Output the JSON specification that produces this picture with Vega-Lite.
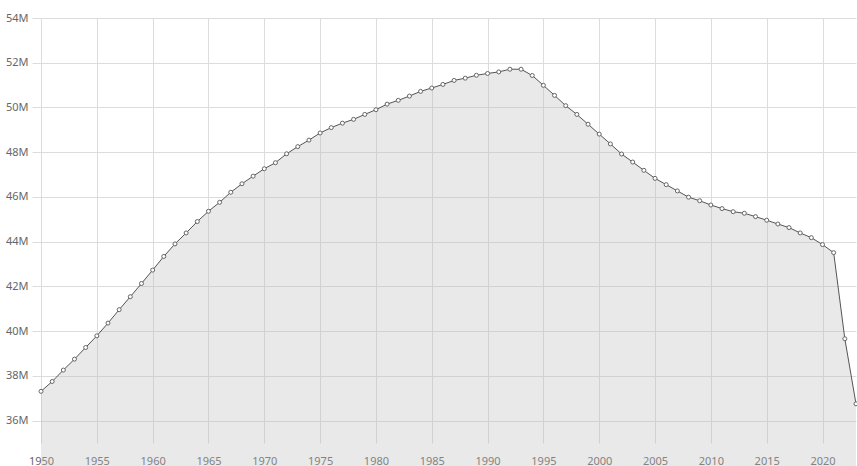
{
  "$schema": "https://vega.github.io/schema/vega-lite/v6.json",
  "width": 815,
  "height": 425,
  "autosize": {"type": "none"},
  "padding": {"left": 41, "top": 18, "right": 1, "bottom": 23},
  "background": "white",
  "config": {
    "view": {"stroke": null},
    "axis": {"labelFont": "Noto Sans", "labelFontSize": 11, "labelColor": "#666666", "domain": false, "gridColor": "#dcdcdc", "gridWidth": 1}
  },
  "data": {"values": [
    {"year": 1950, "pop": 37310000}, {"year": 1951, "pop": 37750000}, {"year": 1952, "pop": 38260000},
    {"year": 1953, "pop": 38750000}, {"year": 1954, "pop": 39270000}, {"year": 1955, "pop": 39790000},
    {"year": 1956, "pop": 40360000}, {"year": 1957, "pop": 40960000}, {"year": 1958, "pop": 41540000},
    {"year": 1959, "pop": 42130000}, {"year": 1960, "pop": 42730000}, {"year": 1961, "pop": 43340000},
    {"year": 1962, "pop": 43900000}, {"year": 1963, "pop": 44390000}, {"year": 1964, "pop": 44900000},
    {"year": 1965, "pop": 45360000}, {"year": 1966, "pop": 45760000}, {"year": 1967, "pop": 46210000},
    {"year": 1968, "pop": 46590000}, {"year": 1969, "pop": 46930000}, {"year": 1970, "pop": 47260000},
    {"year": 1971, "pop": 47530000}, {"year": 1972, "pop": 47930000}, {"year": 1973, "pop": 48250000},
    {"year": 1974, "pop": 48540000}, {"year": 1975, "pop": 48860000}, {"year": 1976, "pop": 49100000},
    {"year": 1977, "pop": 49300000}, {"year": 1978, "pop": 49470000}, {"year": 1979, "pop": 49690000},
    {"year": 1980, "pop": 49900000}, {"year": 1981, "pop": 50150000}, {"year": 1982, "pop": 50320000},
    {"year": 1983, "pop": 50510000}, {"year": 1984, "pop": 50720000}, {"year": 1985, "pop": 50870000},
    {"year": 1986, "pop": 51030000}, {"year": 1987, "pop": 51210000}, {"year": 1988, "pop": 51310000},
    {"year": 1989, "pop": 51440000}, {"year": 1990, "pop": 51520000}, {"year": 1991, "pop": 51590000},
    {"year": 1992, "pop": 51710000}, {"year": 1993, "pop": 51710000}, {"year": 1994, "pop": 51430000},
    {"year": 1995, "pop": 50990000}, {"year": 1996, "pop": 50540000}, {"year": 1997, "pop": 50080000},
    {"year": 1998, "pop": 49690000}, {"year": 1999, "pop": 49250000}, {"year": 2000, "pop": 48810000},
    {"year": 2001, "pop": 48370000}, {"year": 2002, "pop": 47920000}, {"year": 2003, "pop": 47560000},
    {"year": 2004, "pop": 47190000}, {"year": 2005, "pop": 46830000}, {"year": 2006, "pop": 46550000},
    {"year": 2007, "pop": 46270000}, {"year": 2008, "pop": 45990000}, {"year": 2009, "pop": 45830000},
    {"year": 2010, "pop": 45640000}, {"year": 2011, "pop": 45480000}, {"year": 2012, "pop": 45340000},
    {"year": 2013, "pop": 45270000}, {"year": 2014, "pop": 45120000}, {"year": 2015, "pop": 44960000},
    {"year": 2016, "pop": 44790000}, {"year": 2017, "pop": 44630000}, {"year": 2018, "pop": 44390000},
    {"year": 2019, "pop": 44180000}, {"year": 2020, "pop": 43870000}, {"year": 2021, "pop": 43510000},
    {"year": 2022, "pop": 39660000}, {"year": 2023, "pop": 36750000}
  ]},
  "encoding": {
    "x": {
      "field": "year", "type": "quantitative",
      "scale": {"domain": [1950, 2023], "nice": false, "zero": false},
      "axis": {"title": null, "values": [1950,1955,1960,1965,1970,1975,1980,1985,1990,1995,2000,2005,2010,2015,2020], "format": "d", "ticks": false, "labelPadding": 12, "labelFlush": false}
    },
    "y": {
      "field": "pop", "type": "quantitative",
      "scale": {"domain": [35000000, 54000000], "nice": false, "zero": false},
      "axis": {"title": null, "values": [36000000,38000000,40000000,42000000,44000000,46000000,48000000,50000000,52000000,54000000], "labelExpr": "datum.value / 1000000 + 'M'", "ticks": true, "tickSize": 9, "tickColor": "#dcdcdc", "labelPadding": 4}
    }
  },
  "layer": [
    {"mark": {"type": "area", "fill": "#bdbdbd", "fillOpacity": 0.33, "y2": {"expr": "height"}}},
    {"mark": {"type": "line", "color": "#555555", "strokeWidth": 1}},
    {"mark": {"type": "point", "shape": "circle", "filled": false, "fill": "white", "stroke": "#666666", "strokeWidth": 1, "size": 16, "opacity": 1}}
  ]
}
